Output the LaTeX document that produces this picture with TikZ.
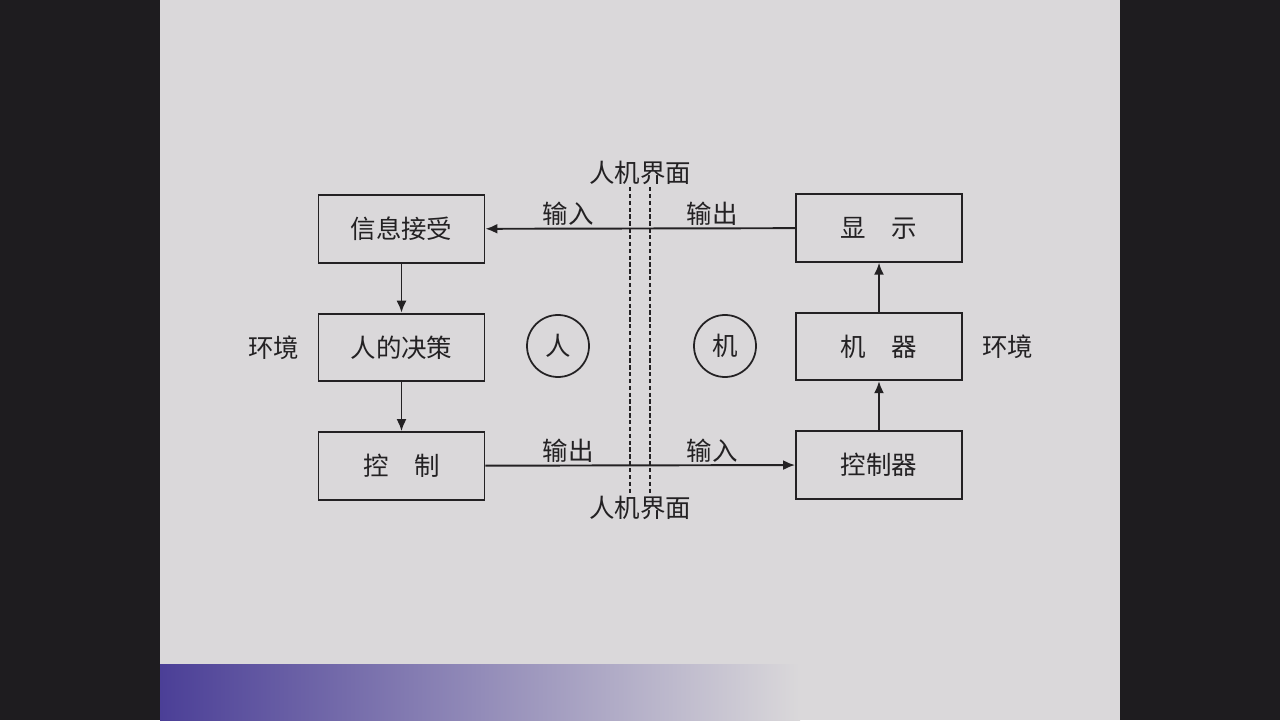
\documentclass[tikz,border=0pt]{standalone}
\usepackage{fontspec}
\setmainfont{Noto Sans CJK SC}
\usetikzlibrary{arrows.meta,positioning}
\definecolor{sideDark}{HTML}{1E1C1F}
\definecolor{pageGray}{HTML}{DAD8DA}
\definecolor{barBlue}{HTML}{4B3F97}
\definecolor{inkLine}{HTML}{232123}

\begin{document}
\begin{tikzpicture}[
        node distance=0.98cm,
        box/.style={rectangle, draw=inkLine, line width=1.1pt, fill=pageGray, minimum width=3.32cm, minimum height=1.35cm, align=center, font=\fontsize{14.5}{16}\selectfont, text=inkLine},
        roundel/.style={circle, draw=inkLine, line width=1pt, minimum size=1.24cm, inner sep=0pt, font=\fontsize{14.5}{16}\selectfont, text=inkLine},
        tag/.style={font=\fontsize{14.5}{16}\selectfont, text=inkLine, inner sep=1pt},
        arrow/.style={-{Latex[length=2.4mm,width=2mm]}, line width=1.1pt, draw=inkLine},
        border/.style={draw=inkLine, line width=1.2pt, dash pattern=on 2.5pt off 1.4pt}
      ]
        % page and side bars
        \fill[sideDark] (0,0) rectangle (25.6,14.4);
        \fill[pageGray] (3.2,0) rectangle (22.4,14.4);
        \shade[left color=barBlue, right color=pageGray] (3.2,0) rectangle (16,1.12);
        \useasboundingbox (0,0) rectangle (25.6,14.4);

        % human side
        \node[box] (recv) at (8.03,9.82) {信息接受};
        \node[box, below=of recv] (decide) {人的决策};
        \node[box, below=of decide] (ctrl) {控\hspace{1em}制};
        \node[tag, left=0.32cm of decide] (envL) {环境};
        \node[roundel] (human) at (11.16,7.48) {人};

        % machine side
        \node[box] (disp) at (17.58,9.84) {显\hspace{1em}示};
        \node[box, below=of disp] (mach) {机\hspace{1em}器};
        \node[box, below=of mach] (ctrlr) {控制器};
        \node[tag, right=0.34cm of mach] (envR) {环境};
        \node[roundel] (machine) at (14.5,7.48) {机};

        % interface
        \node[tag] (ifTop) at (12.8,10.94) {人机界面};
        \node[tag] (ifBot) at (12.8,4.24) {人机界面};
        \coordinate (ifA1) at (12.6,10.66);
        \coordinate (ifA2) at (12.6,4.52);
        \coordinate (ifB1) at (13.0,10.66);
        \coordinate (ifB2) at (13.0,4.52);
        \draw[border] (ifA1) -- (ifA2);
        \draw[border] (ifB1) -- (ifB2);

        \draw[arrow] (disp) -- node[tag, above, pos=0.267] (outTop) {输出} node[tag, above, pos=0.733] (inTop) {输入} (recv);
        \draw[arrow] (ctrl) -- node[tag, above, pos=0.267] (outBot) {输出} node[tag, above, pos=0.733] (inBot) {输入} (ctrlr);
        \draw[arrow] (recv) -- (decide);
        \draw[arrow] (decide) -- (ctrl);
        \draw[arrow] (ctrlr) -- (mach);
        \draw[arrow] (mach) -- (disp);
      \end{tikzpicture}
\end{document}
